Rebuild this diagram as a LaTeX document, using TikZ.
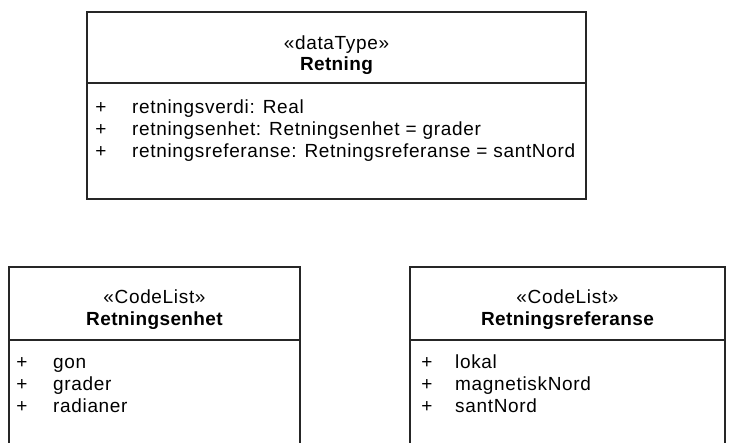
\documentclass[tikz,border=0pt]{standalone}
\usepackage{fontspec}
\setmainfont{Liberation Sans}[LetterSpace=3.5]
\newfontfamily\boldhead{Liberation Sans}[LetterSpace=2]
\begin{document}
\begin{tikzpicture}[x=1pt,y=-1pt,
  umlbox/.style={draw=black!85,line width=1.4pt},
  umltxt/.style={inner sep=0pt,anchor=base,font=\fontsize{19}{22}\selectfont},
  umlhead/.style={inner sep=0pt,anchor=base,font=\fontsize{19}{22}\selectfont\boldhead\bfseries},
  umlattr/.style={inner sep=0pt,anchor=base west,font=\fontsize{19}{22}\selectfont},
  umlplus/.style={inner sep=0pt,anchor=base,font=\fontsize{19}{22}\selectfont}]
\useasboundingbox[fill=white] (0,0) rectangle (733,442);

% Retning (dataType)
\draw[umlbox] (87,12) rectangle (586,199);
\draw[umlbox] (87,83) -- (586,83);
\node[umltxt] (rst) at (336.5,49) {«dataType»};
\node[umlhead] (rname) at (336.5,70) {Retning};
\node[umlplus] (rp1) at (101,113) {+};
\node[umlplus] (rp2) at (101,135) {+};
\node[umlplus] (rp3) at (101,157) {+};
\node[umlattr] (ra1) at (132,113) {retningsverdi: Real};
\node[umlattr] (ra2) at (132,135) {retningsenhet: Retningsenhet = grader};
\node[umlattr] (ra3) at (132,157) {retningsreferanse: Retningsreferanse = santNord};

% Retningsenhet (CodeList)
\draw[umlbox] (9,450) -- (9,267) -- (300,267) -- (300,450);
\draw[umlbox] (9,340) -- (300,340);
\node[umltxt] (est) at (154.5,303) {«CodeList»};
\node[umlhead] (ename) at (154.5,325) {Retningsenhet};
\node[umlplus] (ep1) at (22,368) {+};
\node[umlplus] (ep2) at (22,390) {+};
\node[umlplus] (ep3) at (22,412) {+};
\node[umlattr] (ea1) at (53,368) {gon};
\node[umlattr] (ea2) at (53,390) {grader};
\node[umlattr] (ea3) at (53,412) {radianer};

% Retningsreferanse (CodeList)
\draw[umlbox] (410,450) -- (410,267) -- (725,267) -- (725,450);
\draw[umlbox] (410,340) -- (725,340);
\node[umltxt] (fst) at (567.5,303) {«CodeList»};
\node[umlhead] (fname) at (567.5,325) {Retningsreferanse};
\node[umlplus] (fp1) at (427,368) {+};
\node[umlplus] (fp2) at (427,390) {+};
\node[umlplus] (fp3) at (427,412) {+};
\node[umlattr] (fa1) at (455,368) {lokal};
\node[umlattr] (fa2) at (455,390) {magnetiskNord};
\node[umlattr] (fa3) at (455,412) {santNord};
\end{tikzpicture}
\end{document}
